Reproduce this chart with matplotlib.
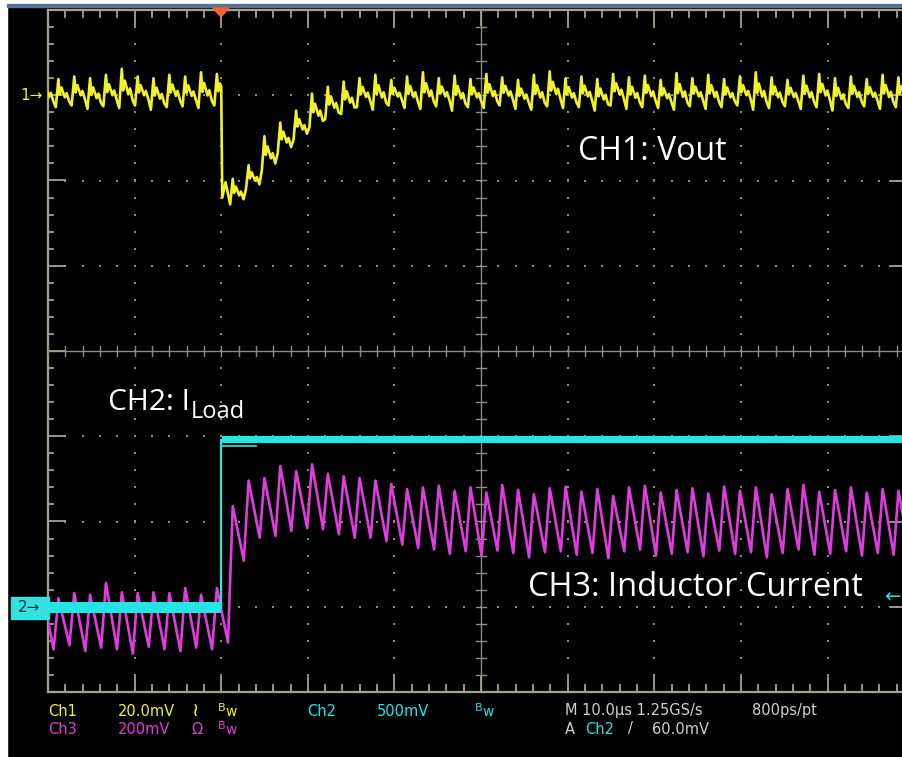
import numpy as np
import matplotlib.pyplot as plt
from matplotlib.patches import Rectangle, Polygon

W, H = 902, 757

# horizontal: time in us (10 us/div, screen cropped at 98.6 us); vertical: divisions
period_us = 1.83
first_cycle_us = -0.63
trigger_us = 20.0

# CH1 Vout ripple, one value per switching cycle (div)
ch1_peaks = [3.20, 3.19, 3.22, 3.20, 3.24, 3.31, 3.22, 3.20, 3.24, 3.22, 3.27, 3.25,
             2.02, 2.18, 2.52, 2.68, 2.82, 3.02, 3.10, 3.16,
             3.20, 3.24, 3.18, 3.22, 3.27, 3.20, 3.23, 3.19, 3.25, 3.21, 3.18, 3.24,
             3.28, 3.20, 3.22, 3.19, 3.25, 3.21, 3.23, 3.18, 3.26, 3.20, 3.24, 3.19,
             3.22, 3.27, 3.21, 3.18, 3.23, 3.25, 3.20, 3.22, 3.19, 3.24, 3.21, 3.23]
ch1_troughs = [2.86, 2.86, 2.88, 2.84, 2.87, 2.85, 2.88, 2.83, 2.86, 2.87, 2.85, 2.88,
               1.72, 1.90, 2.12, 2.32, 2.48, 2.62, 2.72, 2.78,
               2.86, 2.83, 2.88, 2.85, 2.84, 2.87, 2.82, 2.86, 2.85, 2.88, 2.84, 2.83,
               2.87, 2.85, 2.86, 2.82, 2.88, 2.84, 2.86, 2.85, 2.83, 2.87, 2.84, 2.86,
               2.88, 2.83, 2.85, 2.87, 2.84, 2.86, 2.82, 2.85, 2.87, 2.84, 2.86, 2.85]
# Vout right at the load step (time us, div)
ch1_step_t = [20.0, 20.12, 20.5]
ch1_step_v = [3.10, 1.80, 1.98]

# CH3 inductor current, one value per switching cycle (div)
ch3_peaks = [-2.85, -2.90, -2.84, -2.86, -2.72, -2.83, -2.84, -2.83, -2.84, -2.78, -2.86, -2.78,
             -1.82, -1.52, -1.49, -1.35, -1.41, -1.33, -1.44, -1.47, -1.49, -1.52, -1.56, -1.62, -1.60,
             -1.58, -1.64, -1.60, -1.66, -1.57, -1.63, -1.68, -1.61, -1.59, -1.65, -1.62, -1.70,
             -1.60, -1.58, -1.66, -1.63, -1.61, -1.67, -1.59, -1.64, -1.60, -1.68, -1.62, -1.57,
             -1.65, -1.63, -1.60, -1.66, -1.62, -1.64, -1.61]
ch3_troughs = [-3.50, -3.50, -3.45, -3.52, -3.48, -3.50, -3.55, -3.47, -3.50, -3.52, -3.48, -3.50,
               -3.42, -2.46, -2.19, -2.17, -2.11, -2.08, -2.09, -2.15, -2.19, -2.19, -2.23, -2.27, -2.31,
               -2.33, -2.38, -2.35, -2.40, -2.34, -2.37, -2.42, -2.36, -2.35, -2.39, -2.37, -2.43,
               -2.35, -2.33, -2.40, -2.38, -2.36, -2.41, -2.34, -2.38, -2.36, -2.42, -2.37, -2.33,
               -2.39, -2.38, -2.35, -2.40, -2.37, -2.39, -2.36]

# CH2 load current: level before / after the step (div), short undershoot line
ch2_levels = [-3.01, -1.04]
ch2_settle_t = [20.1, 24.0]
ch2_settle_v = [-1.11, -1.11]

yellow = '#f2f22a'
magenta = '#e03ce0'
cyan = '#22e6e6'
frame = '#a4a48c'
dotc = '#8c8c84'


def px(x, y):
    return x / W, 1 - y / H


fig = plt.figure(figsize=(W / 100, H / 100), dpi=100, facecolor='black')
fig.patches.append(Rectangle((0, 0), 7 / W, 1, transform=fig.transFigure, color='white', zorder=0))
fig.patches.append(Rectangle((0, 1 - 4 / H), 1, 4 / H, transform=fig.transFigure, color='white', zorder=0))
fig.patches.append(Rectangle((7 / W, 1 - 7 / H), 1, 3 / H, transform=fig.transFigure, color='#5a7292', zorder=0))

ax = fig.add_axes([48 / W, 1 - 692 / H, (902 - 48) / W, (692 - 10) / H])
ax.set_xlim(0, 98.6)
ax.set_ylim(-4, 4)
ax.axis('off')

# graticule
ax.plot([0, 0], [-4, 4], color=frame, lw=1.6, clip_on=False)
ax.plot([0, 98.6], [4, 4], color=frame, lw=1.6, clip_on=False)
ax.plot([0, 98.6], [-4, -4], color=frame, lw=1.6, clip_on=False)
ax.plot([50, 50], [-4, 4], color=dotc, lw=1.0)
ax.plot([0, 98.6], [0, 0], color=dotc, lw=1.0)
for yv in np.arange(-4, 4.01, 0.2):
    major = abs(yv - round(yv)) < 1e-6
    ax.plot([0, 2.0 if major else 0.6], [yv, yv], color=frame, lw=1.3, clip_on=False)
    ax.plot([49.4, 50.6], [yv, yv], color=dotc, lw=1.0)
for tv in np.arange(0, 98.7, 2):
    major = abs(tv / 10 - round(tv / 10)) < 1e-6
    ln = 0.18 if major else 0.08
    ax.plot([tv, tv], [4, 4 - ln], color=frame, lw=1.3, clip_on=False)
    ax.plot([tv, tv], [-4, -4 + ln], color=frame, lw=1.3, clip_on=False)
    ax.plot([tv, tv], [-0.06, 0.06], color=dotc, lw=1.0)
for tv in [10, 20, 30, 40, 60, 70, 80, 90]:
    yy = np.arange(-3.8, 3.81, 0.2)
    ax.scatter(np.full(len(yy), tv), yy, s=3, marker='s', color=dotc, lw=0)
for yv in [-3, -2, -1, 1, 2, 3]:
    tt = np.arange(2, 98.6, 2)
    ax.scatter(tt, np.full(len(tt), yv), s=3, marker='s', color=dotc, lw=0)
    ax.plot([97.2, 98.6], [yv, yv], color=frame, lw=1.3)

# CH3 inductor current: fast rise, slow fall
t3, v3 = [], []
for k, (p, q) in enumerate(zip(ch3_peaks, ch3_troughs)):
    tk = first_cycle_us + k * period_us
    t3 += [tk - 0.55, tk]
    v3 += [q, p]
ax.plot(t3, v3, color=magenta, lw=1.9, zorder=3)

# CH2 load current
ax.fill_between([0, trigger_us], ch2_levels[0] - 0.06, ch2_levels[0] + 0.06, color=cyan, lw=0, zorder=4)
ax.fill_between([trigger_us + 0.1, 98.6], ch2_levels[1] - 0.04, ch2_levels[1] + 0.04, color=cyan, lw=0, zorder=4)
ax.plot([0, trigger_us, trigger_us, 98.6], [ch2_levels[0], ch2_levels[0], ch2_levels[1], ch2_levels[1]],
        color=cyan, lw=1.6, zorder=4)
ax.plot(ch2_settle_t, ch2_settle_v, color=cyan, lw=1.2, zorder=4)

# CH1 Vout: spike then ragged decay each cycle
shape = [(0.15, 0.55), (0.35, 0.3), (0.75, 0.65), (0.95, 0.5), (1.25, 0.8)]
t1, v1 = [], []
for k, (p, q) in enumerate(zip(ch1_peaks, ch1_troughs)):
    tk = first_cycle_us + k * period_us
    t1 += [tk - 0.3, tk]
    v1 += [q, p]
    for dt, f in shape:
        t1.append(tk + dt)
        v1.append(p - f * (p - q))
t1 = np.array(t1)
v1 = np.array(v1)
keep = (t1 <= trigger_us) | (t1 >= 20.9)
t1 = np.concatenate([t1[keep], ch1_step_t])
v1 = np.concatenate([v1[keep], ch1_step_v])
order = np.argsort(t1, kind='stable')
ax.plot(t1[order], v1[order], color=yellow, lw=1.9, zorder=5)

# channel markers
fig.text(*px(20, 96), '1→', color=yellow, fontsize=11, va='center', ha='left', family='DejaVu Sans')
fig.patches.append(Rectangle(px(11, 619), 38 / W, 22 / H, transform=fig.transFigure, color='#30e2e2', zorder=1))
fig.text(*px(18, 608), '2→', color='#103030', fontsize=11, va='center', ha='left', family='DejaVu Sans')
fig.patches.append(Polygon([px(213, 8), px(229, 8), px(221, 17)], closed=True, transform=fig.transFigure,
                           color='#f26434', zorder=2))
fig.text(*px(900, 597), '←', color=cyan, fontsize=14, va='center', ha='right', family='DejaVu Sans')

# annotations
ann = dict(color='white', family='Open Sans', va='baseline', ha='left')
fig.text(*px(578, 160), 'CH1: Vout', fontsize=23, **ann)
t = fig.text(*px(108, 410), 'CH2: I', fontsize=21.5, **ann)
fig.canvas.draw()
bb = t.get_window_extent()
fig.text(bb.x1 / W + 1 / W, 1 - 418 / H, 'Load', fontsize=17, **ann)
fig.text(*px(528, 596), 'CH3: Inductor Current', fontsize=23.5, **ann)

# status line
grey = '#d0d0d0'
rows = [
    (711, [(48, 'Ch1', yellow), (118, '20.0mV', yellow), (192, '≀', yellow),
           (307, 'Ch2', cyan), (377, '500mV', cyan),
           (565, 'M 10.0µs 1.25GS/s', grey), (752, '800ps/pt', grey)]),
    (729, [(48, 'Ch3', magenta), (118, '200mV', magenta), (191, 'Ω', magenta),
           (565, 'A', grey), (585, 'Ch2', cyan), (628, '/', grey), (652, '60.0mV', grey)]),
]
for yrow, items in rows:
    for xp, s, c in items:
        fs = 14 if s == '≀' else 10.5
        fig.text(*px(xp, yrow), s, color=c, fontsize=fs, va='center', ha='left', family='DejaVu Sans')
for xp, yrow, c in [(218, 711, yellow), (218, 729, magenta), (475, 711, cyan)]:
    fig.text(*px(xp, yrow - 3), 'B', color=c, fontsize=8, va='center', ha='left', family='DejaVu Sans')
    fig.text(*px(xp + 7, yrow + 1), 'w', color=c, fontsize=10, va='center', ha='left', family='DejaVu Sans')

fig.savefig('out.png', dpi=100, facecolor='black')
